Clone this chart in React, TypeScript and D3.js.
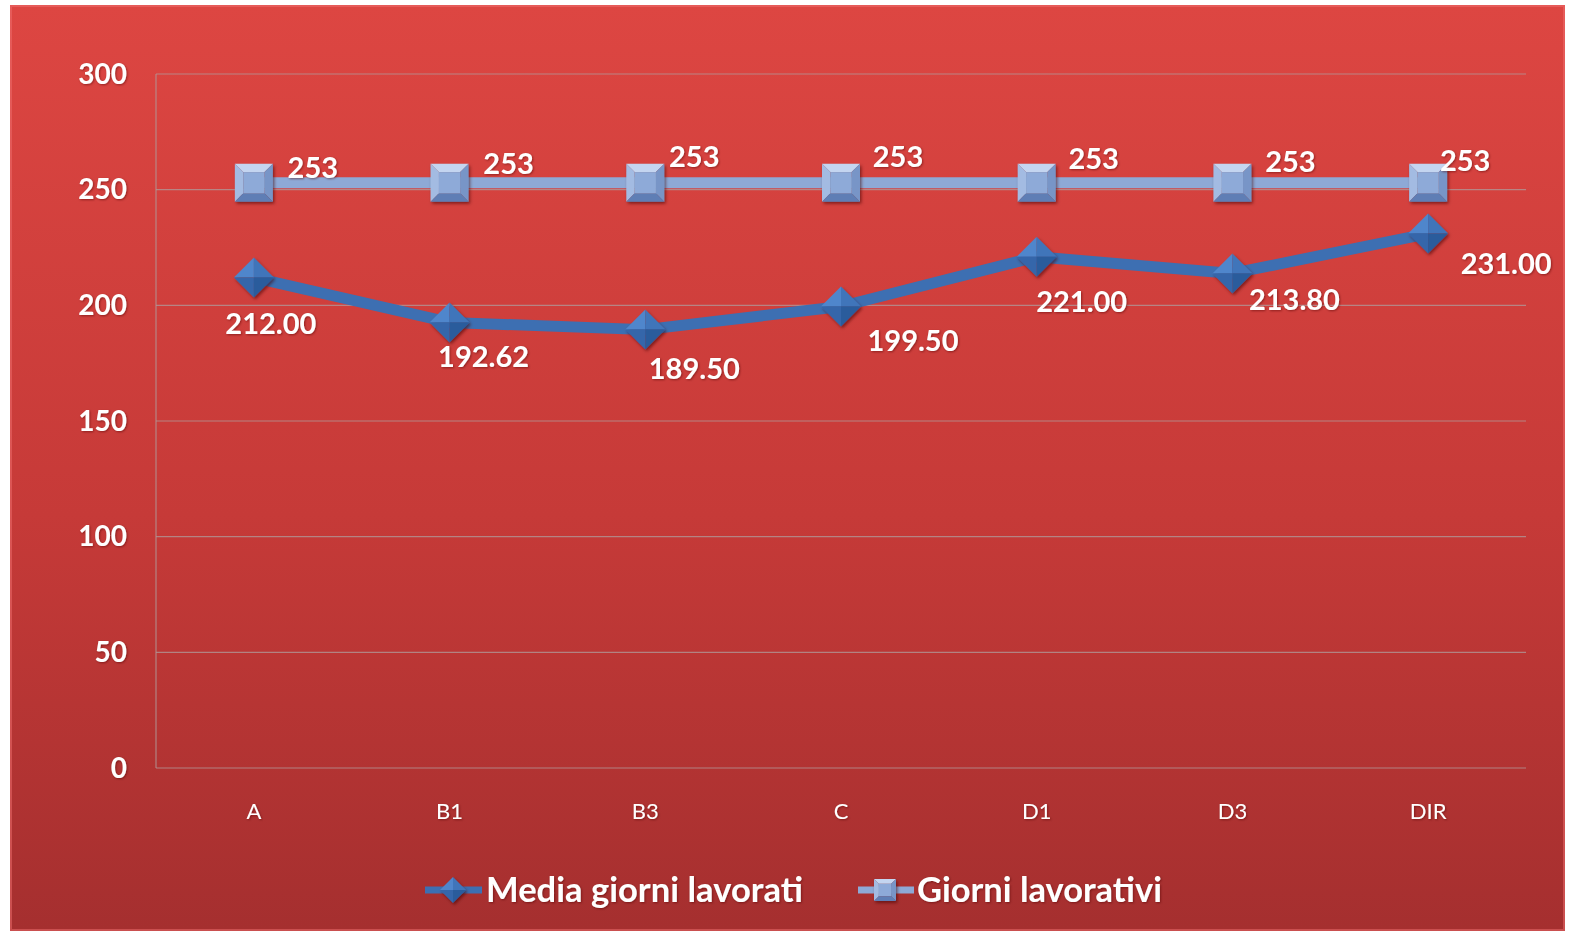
import { useEffect, useRef } from "react";
import * as d3 from "d3";

const categorie = ["A", "B1", "B3", "C", "D1", "D3", "DIR"];
const mediaGiorni = [212.0, 192.62, 189.5, 199.5, 221.0, 213.8, 231.0];
const giorniLavorativi = [253, 253, 253, 253, 253, 253, 253];
const yTicks = [0, 50, 100, 150, 200, 250, 300];
const serie = ["Media giorni lavorati", "Giorni lavorativi"];

// spostamenti delle etichette (come le ha messe Excel)
const offMedia: [number, number][] = [
  [17, 46], [34, 34], [49, 39], [72, 34], [45, 45], [62, 26], [78, 30],
];
const offGiorni: [number, number][] = [
  [59, -15], [59, -19], [49, -26], [57, -26], [57, -24], [58, -21], [37, -22],
];

const W = 1570;
const H = 934;

export default function App() {
  const svgRef = useRef<SVGSVGElement | null>(null);

  useEffect(() => {
    if (!svgRef.current) return;
    const svg = d3.select(svgRef.current);
    svg.selectAll("*").remove();

    const m = { left: 156, right: 1526, top: 74, bottom: 768 };
    const font = "Lato, 'Open Sans', sans-serif";

    const defs = svg.append("defs");
    const bg = defs.append("linearGradient").attr("id", "bg").attr("x1", 0).attr("y1", 0).attr("x2", 0).attr("y2", 1);
    bg.append("stop").attr("offset", "0%").attr("stop-color", "#dd4642");
    bg.append("stop").attr("offset", "55%").attr("stop-color", "#c63a38");
    bg.append("stop").attr("offset", "100%").attr("stop-color", "#a52f2f");

    const sh = defs.append("filter").attr("id", "sh").attr("x", "-30%").attr("y", "-30%").attr("width", "160%").attr("height", "160%");
    sh.append("feDropShadow").attr("dx", 1.5).attr("dy", 2).attr("stdDeviation", 1.5).attr("flood-color", "#400000").attr("flood-opacity", 0.55);
    const tsh = defs.append("filter").attr("id", "tsh");
    tsh.append("feDropShadow").attr("dx", 1).attr("dy", 1).attr("stdDeviation", 1).attr("flood-color", "#500000").attr("flood-opacity", 0.5);

    // pannello
    svg.append("rect").attr("width", W).attr("height", H).attr("fill", "#fff");
    svg.append("rect").attr("x", 10).attr("y", 5).attr("width", 1555).attr("height", 926).attr("fill", "url(#bg)");
    svg.append("rect").attr("x", 11).attr("y", 6).attr("width", 1553).attr("height", 924)
      .attr("fill", "none").attr("stroke", "#f07070").attr("stroke-opacity", 0.5).attr("stroke-width", 2);

    const x = d3.scalePoint<string>().domain(categorie).range([m.left, m.right]).padding(0.5);
    const y = d3.scaleLinear().domain([0, 300]).range([m.bottom, m.top]);

    // griglia
    svg.append("g").selectAll("line").data(yTicks).join("line")
      .attr("x1", m.left).attr("x2", m.right)
      .attr("y1", (d) => y(d)).attr("y2", (d) => y(d))
      .attr("stroke", "#b09696").attr("stroke-opacity", 0.8).attr("stroke-width", 1.2);
    svg.append("line").attr("x1", m.left).attr("x2", m.left).attr("y1", m.top).attr("y2", m.bottom)
      .attr("stroke", "#b09696").attr("stroke-opacity", 0.8).attr("stroke-width", 1.2);

    // etichette assi
    svg.append("g").selectAll("text").data(yTicks).join("text")
      .attr("x", 127).attr("y", (d) => y(d)).attr("dy", "0.35em")
      .attr("text-anchor", "end").attr("font-family", font).attr("font-weight", 700)
      .attr("font-size", 28).attr("fill", "#fff").attr("filter", "url(#tsh)")
      .text((d) => d);
    svg.append("g").selectAll("text").data(categorie).join("text")
      .attr("x", (d) => x(d)!).attr("y", 811).attr("dy", "0.35em")
      .attr("text-anchor", "middle").attr("font-family", font)
      .attr("font-size", 22).attr("fill", "#fff").attr("filter", "url(#tsh)")
      .text((d) => d);

    const line = d3.line<number>().x((_, i) => x(categorie[i])!).y((d) => y(d));

    svg.append("path").datum(giorniLavorativi).attr("d", line).attr("fill", "none")
      .attr("stroke", "#8ea9d6").attr("stroke-width", 11);
    svg.append("path").datum(mediaGiorni).attr("d", line).attr("fill", "none")
      .attr("stroke", "#3d6fb2").attr("stroke-width", 11).attr("stroke-linejoin", "round");

    // marker con effetto smussato
    const square = (g: d3.Selection<SVGGElement, unknown, null, undefined>, cx: number, cy: number, s: number) => {
      const h = s / 2, b = s * 0.22;
      const gg = g.append("g").attr("transform", `translate(${cx},${cy})`).attr("filter", "url(#sh)");
      gg.append("path").attr("d", `M${-h},${-h}L${h},${-h}L${h - b},${-h + b}L${-h + b},${-h + b}Z`).attr("fill", "#c4d5f0");
      gg.append("path").attr("d", `M${-h},${-h}L${-h + b},${-h + b}L${-h + b},${h - b}L${-h},${h}Z`).attr("fill", "#a3bbe2");
      gg.append("path").attr("d", `M${h},${-h}L${h},${h}L${h - b},${h - b}L${h - b},${-h + b}Z`).attr("fill", "#7895c7");
      gg.append("path").attr("d", `M${-h},${h}L${h},${h}L${h - b},${h - b}L${-h + b},${h - b}Z`).attr("fill", "#5f7eb5");
      gg.append("rect").attr("x", -h + b).attr("y", -h + b).attr("width", s - 2 * b).attr("height", s - 2 * b).attr("fill", "#8eaad8");
    };
    const diamond = (g: d3.Selection<SVGGElement, unknown, null, undefined>, cx: number, cy: number, s: number) => {
      const h = s / 2;
      const gg = g.append("g").attr("transform", `translate(${cx},${cy})`).attr("filter", "url(#sh)");
      gg.append("path").attr("d", `M${-h},0L0,${-h}L0,0Z`).attr("fill", "#4f86cc");
      gg.append("path").attr("d", `M0,${-h}L${h},0L0,0Z`).attr("fill", "#3f74ba");
      gg.append("path").attr("d", `M${h},0L0,${h}L0,0Z`).attr("fill", "#2c5b9c");
      gg.append("path").attr("d", `M0,${h}L${-h},0L0,0Z`).attr("fill", "#3566aa");
    };

    const mk = svg.append("g");
    giorniLavorativi.forEach((v, i) => square(mk, x(categorie[i])!, y(v), 38));
    mediaGiorni.forEach((v, i) => diamond(mk, x(categorie[i])!, y(v), 40));

    // etichette dati
    const lbl = svg.append("g").attr("font-family", font).attr("font-weight", 700)
      .attr("font-size", 29).attr("fill", "#fff").attr("text-anchor", "middle").attr("filter", "url(#tsh)");
    giorniLavorativi.forEach((v, i) => {
      lbl.append("text").attr("x", x(categorie[i])! + offGiorni[i][0]).attr("y", y(v) + offGiorni[i][1])
        .attr("dy", "0.35em").text(d3.format("d")(v));
    });
    mediaGiorni.forEach((v, i) => {
      lbl.append("text").attr("x", x(categorie[i])! + offMedia[i][0]).attr("y", y(v) + offMedia[i][1])
        .attr("dy", "0.35em").text(d3.format(".2f")(v));
    });

    // legenda
    const lg = svg.append("g");
    const ly = 890;
    lg.append("line").attr("x1", 425).attr("x2", 482).attr("y1", ly).attr("y2", ly).attr("stroke", "#3d6fb2").attr("stroke-width", 7);
    diamond(lg, 453, ly, 26);
    lg.append("text").attr("x", 486).attr("y", ly).attr("dy", "0.35em").attr("font-family", font)
      .attr("font-weight", 700).attr("font-size", 34).attr("fill", "#fff").attr("filter", "url(#tsh)")
      .attr("textLength", 317).attr("lengthAdjust", "spacingAndGlyphs").text(serie[0]);
    lg.append("line").attr("x1", 858).attr("x2", 914).attr("y1", ly).attr("y2", ly).attr("stroke", "#8ea9d6").attr("stroke-width", 7);
    square(lg, 885, ly, 22);
    lg.append("text").attr("x", 917).attr("y", ly).attr("dy", "0.35em").attr("font-family", font)
      .attr("font-weight", 700).attr("font-size", 34).attr("fill", "#fff").attr("filter", "url(#tsh)")
      .attr("textLength", 245).attr("lengthAdjust", "spacingAndGlyphs").text(serie[1]);
  }, []);

  return (
    <div style={{ position: "absolute", left: 0, top: 0 }}>
      <svg ref={svgRef} width={W} height={H} style={{ display: "block" }}></svg>
    </div>
  );
}
